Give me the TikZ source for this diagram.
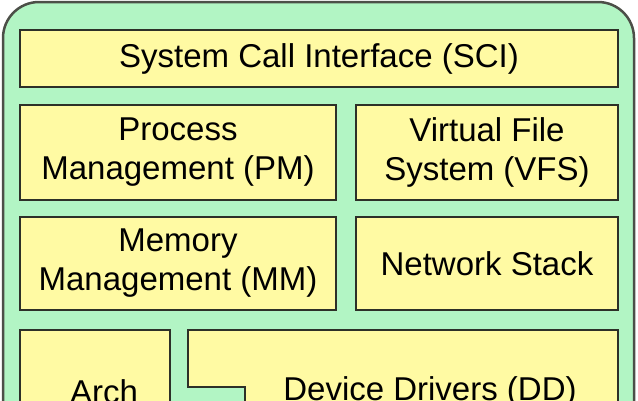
\documentclass[tikz,border=0pt]{standalone}
\usepackage{fontspec}
\setmainfont{Liberation Sans}
\definecolor{kgreen}{RGB}{178,245,196}
\definecolor{kyellow}{RGB}{255,250,163}
\definecolor{kline}{RGB}{45,48,40}
\begin{document}
\begin{tikzpicture}[x=1pt,y=-1pt,
  outer/.style={draw=kline!85,line width=2.5pt,fill=kgreen,rounded corners=36pt},
  part/.style={draw=kline,line width=2.5pt,fill=kyellow,inner sep=0pt,align=center,
    font=\fontsize{33}{39}\selectfont},
  txt/.style={inner sep=0pt,font=\fontsize{33}{39}\selectfont}]
\useasboundingbox (0,0) rectangle (638,400);
\clip (0,0) rectangle (638,400);
\draw[outer] (3,2) rectangle (634,470);
\foreach \nm/\cx/\cy/\w/\h/\txt in {
  sci/319/58.5/598/57/{System Call Interface (SCI)},
  pm/178/152.5/316/95/{Process\\Management (PM)},
  vfs/487/152.5/262/95/{Virtual File\\System (VFS)},
  mm/178/263.5/316/93/{Memory\\Management (MM)},
  net/487/263.5/262/93/{Network Stack}}{
  \node[part,minimum width=\w pt,minimum height=\h pt] (\nm) at (\cx,\cy) {\txt};
}
% bottom row runs off the picture
\draw[part] (20,330) rectangle (170,460);
\node[txt] (arch) at (104,392) {Arch};
\draw[part] (188,330) -- (618,330) -- (618,460) -- (245,460) -- (245,387) -- (188,387) -- cycle;
\node[txt] (dd) at (430,392) {Device Drivers (DD)};
\end{tikzpicture}
\end{document}
